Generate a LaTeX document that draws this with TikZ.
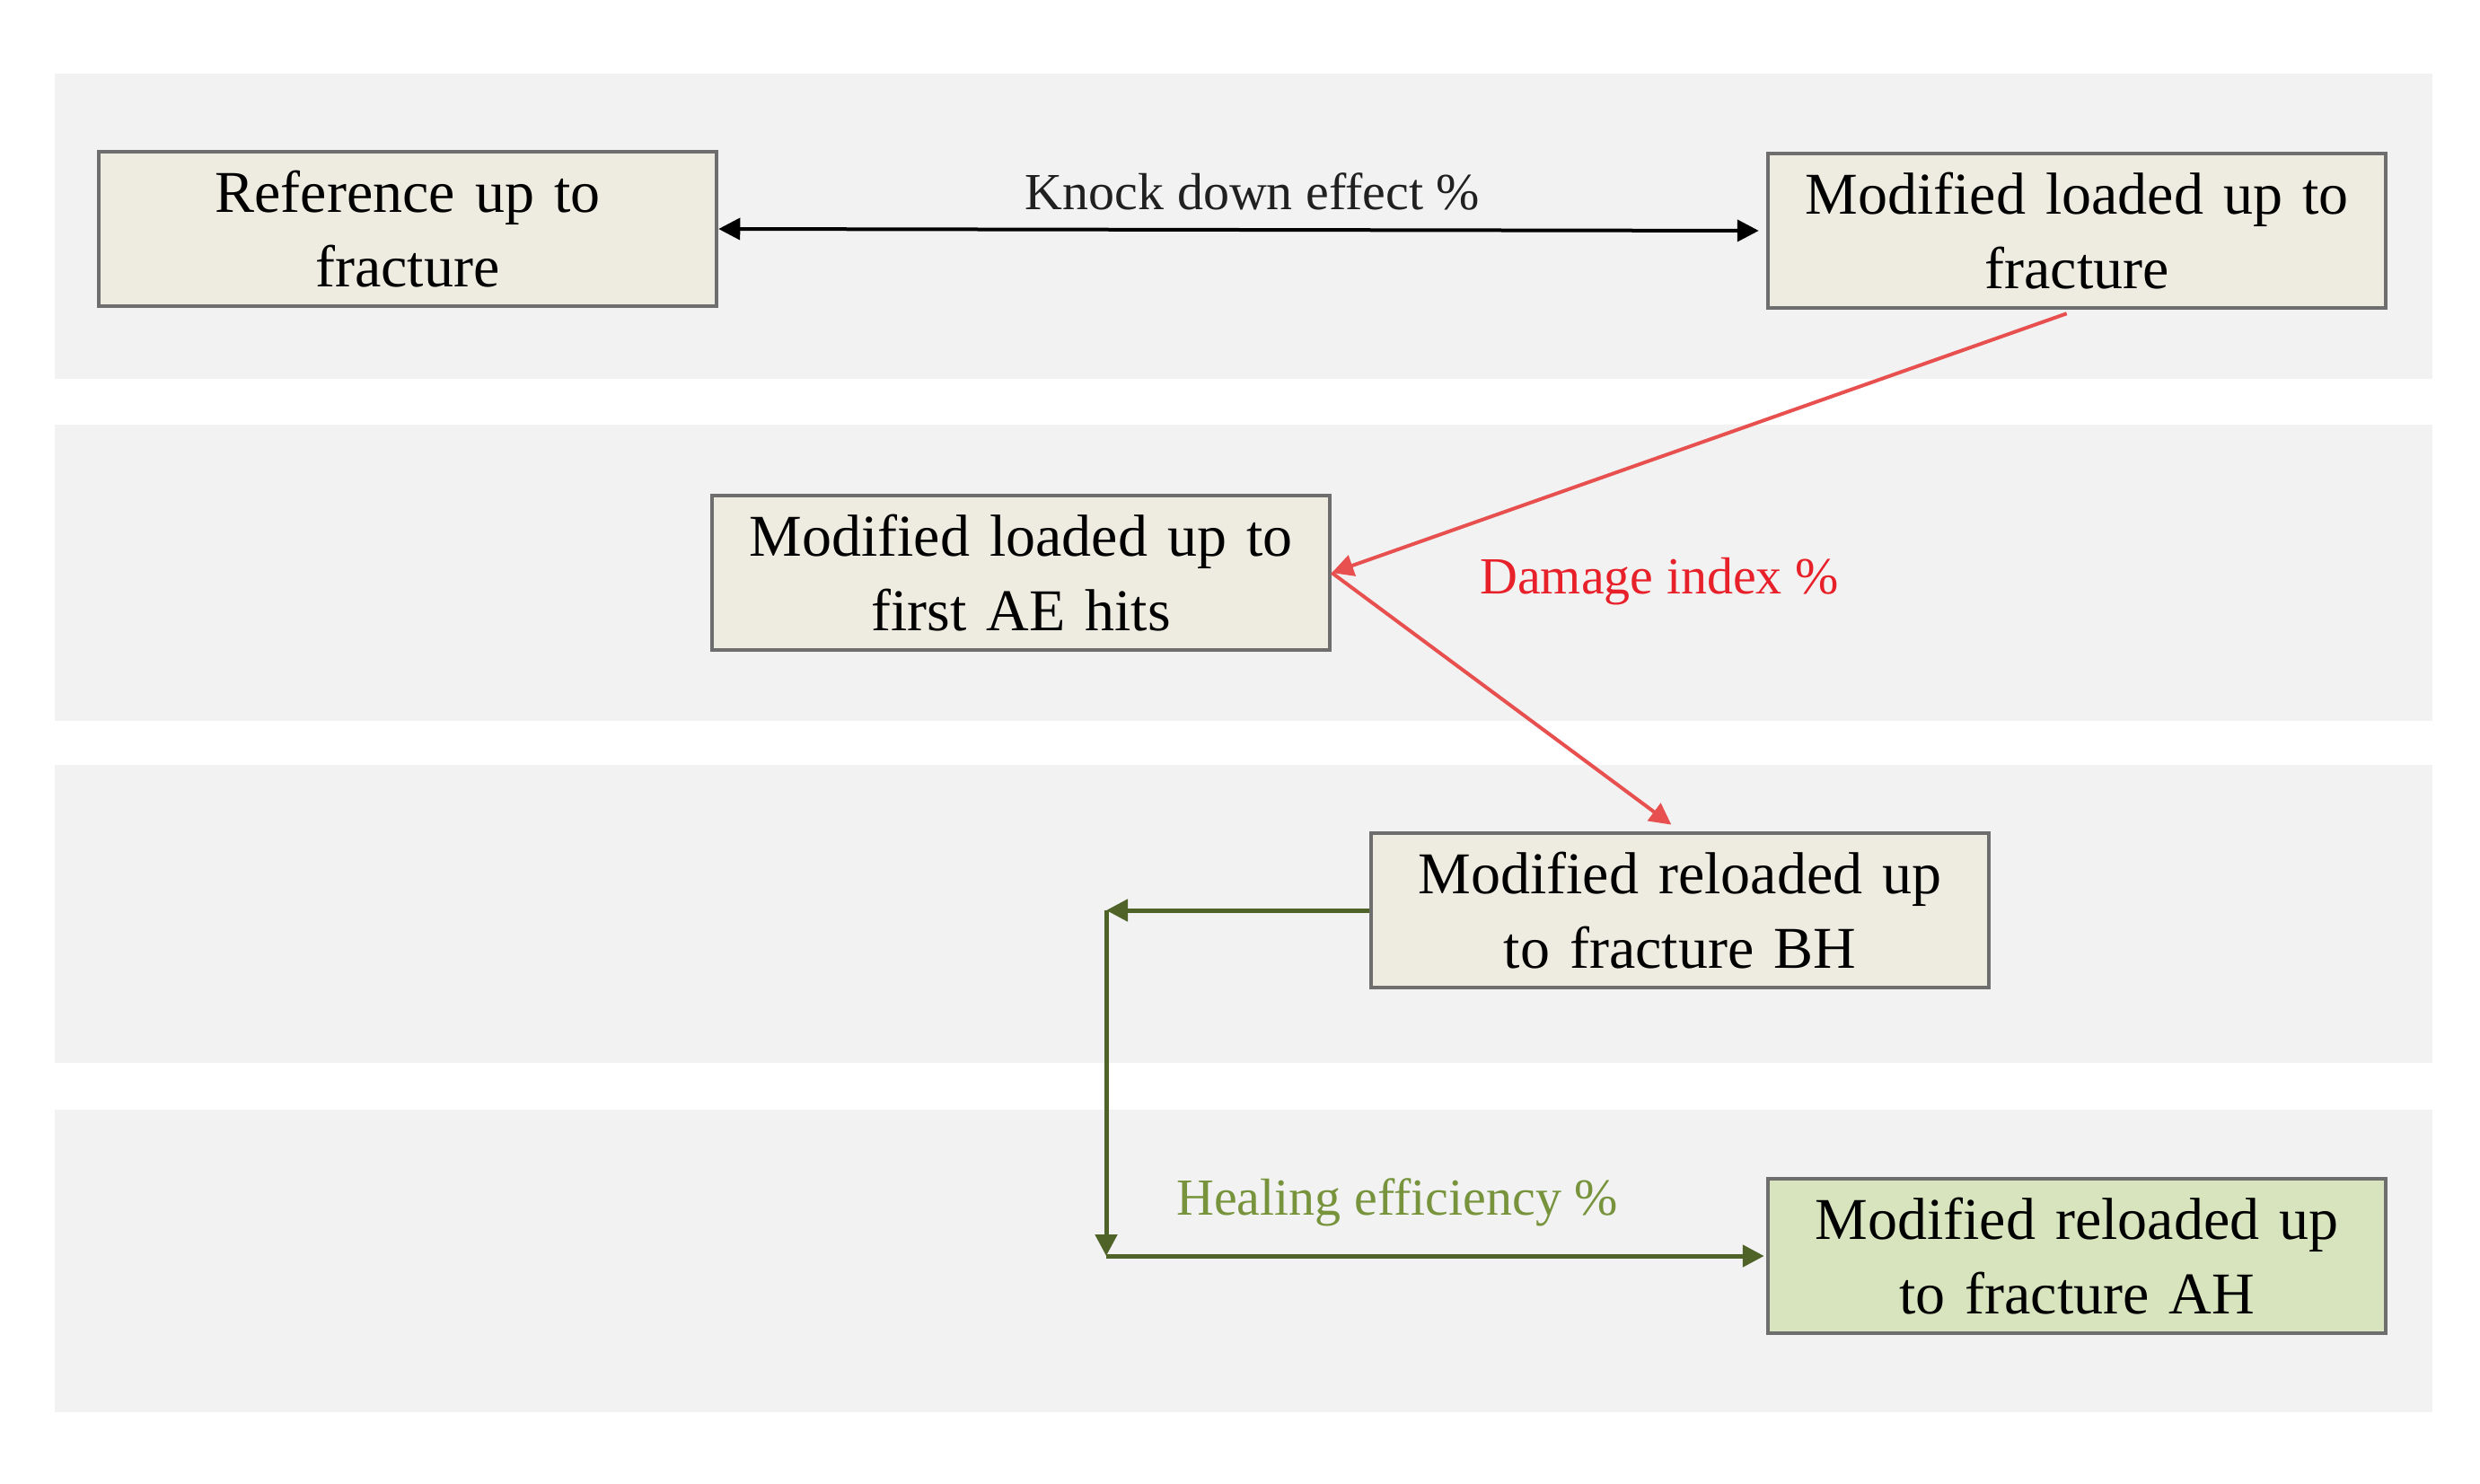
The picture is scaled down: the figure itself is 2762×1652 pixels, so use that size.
\documentclass[tikz,border=0pt]{standalone}
\usepackage{fontspec}
\setmainfont{Liberation Serif}
\usetikzlibrary{arrows.meta}
\definecolor{bandgray}{HTML}{F2F2F2}
\definecolor{boxfill}{HTML}{EEECE1}
\definecolor{boxline}{HTML}{6E6E6E}
\definecolor{greenfill}{HTML}{D7E4BD}
\definecolor{arrowred}{HTML}{E85050}
\definecolor{textred}{HTML}{E8202A}
\definecolor{arrowgreen}{HTML}{4F6228}
\definecolor{textgreen}{HTML}{77933C}
\definecolor{textgray}{HTML}{202020}
\begin{document}
\begin{tikzpicture}[x=1pt,y=-1pt,
  stepbox/.style={draw=boxline, line width=4.5pt, fill=boxfill, minimum width=688pt, minimum height=172pt, inner sep=0pt, text width=670pt, align=center, font=\fontsize{66}{83}\selectfont},
  lbl/.style={font=\fontsize{58}{70}\selectfont, anchor=base, inner sep=0pt},
  onetip/.style={-{Triangle[length=24pt,width=24pt]}},
  twotips/.style={{Triangle[length=24pt,width=24pt]}-{Triangle[length=24pt,width=24pt]}},
  blackline/.style={draw=black, line width=4pt},
  redline/.style={draw=arrowred, line width=4pt},
  greenline/.style={draw=arrowgreen, line width=5pt},
]
\useasboundingbox (0,0) rectangle (2762,1652);
\fill[white] (0,0) rectangle (2762,1652);
% bands
\fill[bandgray] (61,82) rectangle (2709,422);
\fill[bandgray] (61,473) rectangle (2709,803);
\fill[bandgray] (61,852) rectangle (2709,1184);
\fill[bandgray] (61,1236) rectangle (2709,1573);
% boxes
\node[stepbox] (ref) at (454,255) {Reference up to\\fracture};
\node[stepbox] (mod) at (2313,257) {Modified loaded up to\\fracture};
\node[stepbox] (ae) at (1137,638) {Modified loaded up to\\first AE hits};
\node[stepbox] (bh) at (1871,1014) {Modified reloaded up\\to fracture BH};
\node[stepbox, fill=greenfill] (ah) at (2313,1399) {Modified reloaded up\\to fracture AH};
% corner points of the green connector
\coordinate (c1) at (1232,1014);
\coordinate (c2) at (1232,1399);
% connectors
\draw[blackline, twotips, shorten >=8pt] (ref.east) -- (mod.west);
\draw[redline, onetip, shorten <=12pt] (mod.south) -- (ae.east);
\draw[redline, onetip, shorten >=12pt] (ae.east) -- (bh.north);
\draw[greenline, onetip] (bh.west) -- (c1);
\draw[greenline, onetip] (c1) -- (c2);
\draw[greenline, onetip, shorten >=2pt] (c2) -- (ah.west);
% labels
\node[lbl, text=textgray] (kd) at (1395,233) {Knock down effect \%};
\node[lbl, text=textred] (di) at (1848,661) {Damage index \%};
\node[lbl, text=textgreen] (he) at (1556,1353) {Healing efficiency \%};
\end{tikzpicture}
\end{document}
